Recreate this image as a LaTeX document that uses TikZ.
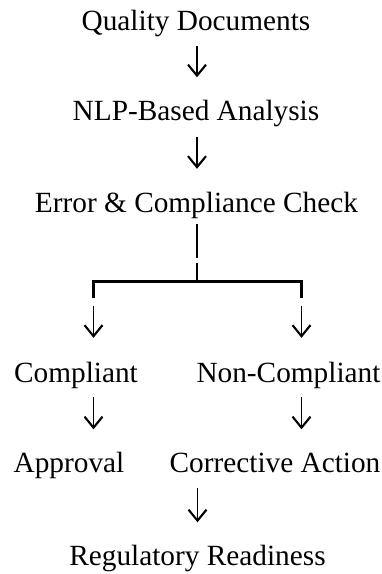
\documentclass[tikz,border=0pt]{standalone}
\usepackage{fontspec}
\setmainfont{Liberation Serif}
\usetikzlibrary{arrows.meta}
\begin{document}
\begin{tikzpicture}[x=1pt,y=-1pt,
  label/.style={inner sep=0pt,anchor=base,text height=20pt,text depth=7pt,
    font=\fontsize{29.3}{35}\selectfont},
  arr/.style={line width=1.5pt,
    -{Straight Barb[length=11pt,width=18pt,line width=2.1pt]},
    shorten <=9pt,shorten >=22.5pt},
  tree/.style={line width=2.5pt,line join=miter}]
\useasboundingbox (0,0) rectangle (382,574);

% steps of the workflow, placed at their baselines
\node[label] (q)  at (196,30)    {Quality Documents};
\node[label] (n)  at (196,120)   {NLP-Based Analysis};
\node[label] (e)  at (196.5,212) {Error \& Compliance Check};
\node[label] (c)  at (76,382)    {Compliant};
\node[label] (nc) at (288.5,382) {Non-Compliant};
\node[label] (a)  at (69,472)    {Approval};
\node[label] (ca) at (275,472)   {Corrective Action};
\node[label] (r)  at (197.5,565) {Regulatory Readiness};

% branch points of the decision fork
\coordinate (fork) at (197,281.5);
\coordinate (lf)   at (93.5,281.5);
\coordinate (rf)   at (301.5,281.5);

% straight sequence
\draw[arr] (q.south -| fork) -- (n.north -| fork);
\draw[arr,shorten <=10pt,shorten >=23pt] (n.south -| fork) -- (e.north -| fork);

% fork below the check
\draw[tree] (e.south -| fork) ++(0,5) -- ++(0,34);
\draw[tree] (fork) ++(0,-18.5) -- (fork);
\draw[tree] (lf) ++(0,16.5) -- (lf) -- (rf) -- ++(0,16.5);

% the two outcomes
\draw[arr,shorten <=24pt,shorten >=24pt] (lf) -- (lf |- c.north);
\draw[arr,shorten <=24pt,shorten >=24pt] (rf) -- (rf |- nc.north);
\draw[arr,shorten <=8pt] (c.south -| lf) -- (a.north -| lf);
\draw[arr,shorten <=8pt] (nc.south -| rf) -- (ca.north -| rf);

% final step
\draw[arr] (r.north |- ca.south) -- (r.north);
\end{tikzpicture}
\end{document}
